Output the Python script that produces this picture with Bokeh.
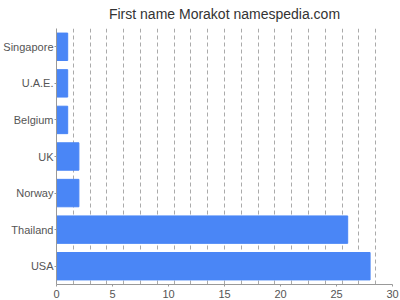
from bokeh.plotting import figure
from bokeh.models import Range1d, FixedTicker
from bokeh.embed import file_html
from bokeh.resources import INLINE

countries = ["Singapore", "U.A.E.", "Belgium", "UK", "Norway", "Thailand", "USA"]
counts = [1, 1, 1, 2, 2, 26, 28]
x_ticks = [0, 5, 10, 15, 20, 25, 30]
grid_ticks = [i * 1.5 for i in range(1, 21)]

p = figure(width=400, height=300, output_backend="svg", toolbar_location=None,
           y_range=list(reversed(countries)), x_range=Range1d(0, 30),
           title="First name Morakot namespedia.com")
p.min_border_left = 55
p.min_border_right = 8
p.min_border_top = 0
p.min_border_bottom = 4
p.outline_line_color = None
p.background_fill_color = "white"

p.title.align = "center"
p.title.text_font = "Liberation Sans"
p.title.text_font_size = "14px"
p.title.text_font_style = "normal"
p.title.text_color = "#333333"
p.title.standoff = 10
p.title.text_line_height = 1.8
p.title.vertical_align = "top"

p.hbar(y=countries, right=counts, left=0, height=0.75, color="#4a86f6")

p.xaxis.ticker = FixedTicker(ticks=x_ticks)
p.xgrid.ticker = FixedTicker(ticks=grid_ticks)
p.xgrid.grid_line_color = "#aaaaaa"
p.xgrid.grid_line_dash = "4 3"
p.ygrid.grid_line_color = None

for ax in (p.xaxis, p.yaxis):
    ax.axis_line_color = "#999999"
    ax.major_tick_line_color = "#999999"
    ax.major_tick_in = 0
    ax.major_tick_out = 2
    ax.minor_tick_line_color = None
    ax.major_label_text_font = "Liberation Sans"
    ax.major_label_text_font_size = "11px"
    ax.major_label_text_color = "#555555"
    ax.major_label_standoff = 1
p.xaxis.major_label_standoff = 3

out = file_html(p, INLINE)
open("out.html", "w").write(out)
